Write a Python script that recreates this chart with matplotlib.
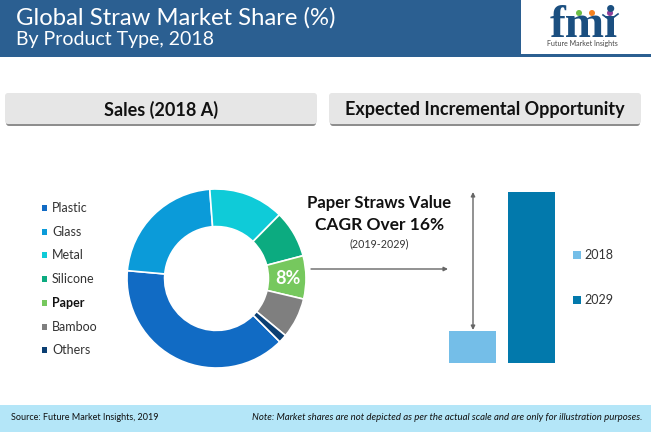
import matplotlib
matplotlib.use('Agg')
from matplotlib import pyplot as plt
from matplotlib.patches import Rectangle, FancyBboxPatch, Circle

W, H = 653, 432

# Donut data (share %)
products = ['Plastic', 'Glass', 'Metal', 'Silicone', 'Paper', 'Bamboo', 'Others']
shares = [38.9, 22.4, 13.6, 8.5, 7.8, 7.3, 1.5]
colors = ['#116BC4', '#0B9BD9', '#0FCBD8', '#0CAB80', '#76C85E', '#7F7F7F', '#0B3F73']

# Bar data (index, not to scale in the source)
years = ['2018', '2029']
values = [32, 171]
bar_colors = ['#74BEE8', '#0279AC']

plt.rcParams['font.family'] = ['Lato', 'DejaVu Sans']

fig = plt.figure(figsize=(W / 100, H / 100), dpi=100)

# full figure overlay in pixel coords
bg = fig.add_axes([0, 0, 1, 1])
bg.set_xlim(0, W)
bg.set_ylim(H, 0)
bg.axis('off')

# Header
bg.add_patch(Rectangle((0, 0), 521, 55, fc='#2B5F91', ec='none'))
bg.add_patch(Rectangle((0, 54), 651, 3, fc='#2B5F91', ec='none'))
bg.text(16, 18, 'Global Straw Market Share (%)', color='white', fontsize=17.2, va='center')
bg.text(16, 40, 'By Product Type, 2018', color='white', fontsize=14, va='center')

# Logo
bg.text(584, 37, 'fmi', color='#1B4F80', fontsize=34, weight='bold', family='Liberation Serif',
        ha='center', va='baseline')
for x, c in zip([579, 592, 610], ['#6CBE45', '#F58220', '#8E3F98']):
    bg.add_patch(Circle((x, 13), 3, fc=c, ec='none'))
bg.plot([603, 610, 618], [15, 20, 14], color='#1B4F80', lw=1.2)
bg.text(582, 43.5, 'Future Market Insights', color='#444444', fontsize=5, ha='center', va='center')

# Section headings
for x0, label in [(5, 'Sales (2018 A)'), (329, 'Expected Incremental Opportunity')]:
    bg.add_patch(FancyBboxPatch((x0 + 1, 96), 310, 30, boxstyle='round,pad=0,rounding_size=3',
                                fc='#8E8E8E', ec='none'))
    bg.add_patch(FancyBboxPatch((x0, 93), 312, 31, boxstyle='round,pad=0,rounding_size=3',
                                fc='#E6E6E6', ec='none'))
    bg.text(x0 + 156, 110, label, color='#111111', fontsize=13, weight='bold',
            ha='center', va='center')

# Legend of the donut
legend_y = [208, 232, 255, 279, 303, 327, 350]
for name, c, y in zip(products, colors, legend_y):
    bg.add_patch(Rectangle((42, y - 3), 5, 6, fc=c, ec='none'))
    bg.text(52, y, name, color='#111111' if name == 'Paper' else '#333333', fontsize=9,
            weight='bold' if name == 'Paper' else 'normal', va='center')

# Middle text
bg.text(379.5, 203, 'Paper Straws Value', color='#111111', fontsize=12, weight='bold', ha='center', va='center')
bg.text(379.5, 225, 'CAGR Over 16%', color='#111111', fontsize=12.5, weight='bold', ha='center', va='center')
bg.text(379, 244, '(2019-2029)', color='#333333', fontsize=7.7, ha='center', va='center')
bg.annotate('', xy=(448, 269), xytext=(311, 269),
            arrowprops=dict(arrowstyle='-|>', color='#666666', lw=1, mutation_scale=6, shrinkA=0, shrinkB=0))
bg.annotate('', xy=(473, 330), xytext=(473, 192),
            arrowprops=dict(arrowstyle='<|-|>', color='#666666', lw=1, mutation_scale=6, shrinkA=0, shrinkB=0))

# Bar legend
for yr, c, y in zip(years, bar_colors, [255, 300]):
    bg.add_patch(Rectangle((573, y - 4), 8, 8, fc=c, ec='none'))
    bg.text(584, y, yr, color='#333333', fontsize=9, va='center')

# Footer
bg.add_patch(Rectangle((0, 405), 651, 27, fc='#B4E6F8', ec='none'))
bg.text(11, 417, 'Source: Future Market Insights, 2019', color='#111111', fontsize=6.5, va='center')
bg.text(642, 417, 'Note: Market shares are not depicted as per the actual scale and are only for illustration purposes.',
        color='#111111', fontsize=6.9, style='italic', ha='right', va='center')

# Donut
r_px = 89.5
cx, cy = 216.5, 278.5
ax = fig.add_axes([(cx - r_px) / W, 1 - (cy + r_px) / H, 2 * r_px / W, 2 * r_px / H])
wedges, _ = ax.pie(shares, colors=colors, startangle=-45, counterclock=False, radius=1,
                   wedgeprops=dict(width=0.42, edgecolor='white', linewidth=1.2))
ax.set_xlim(-1, 1)
ax.set_ylim(-1, 1)
ax.text(0.8, 0.0, '8%', color='white', fontsize=13, weight='bold', ha='center', va='center')

# Bars
ax2 = fig.add_axes([440 / W, 1 - 363 / H, 124 / W, 171 / H])
ax2.bar([0, 1], values, width=0.8, color=bar_colors)
ax2.set_xlim(-0.55, 1.55)
ax2.set_ylim(0, 171)
ax2.axis('off')

fig.savefig('out.png', dpi=100)
